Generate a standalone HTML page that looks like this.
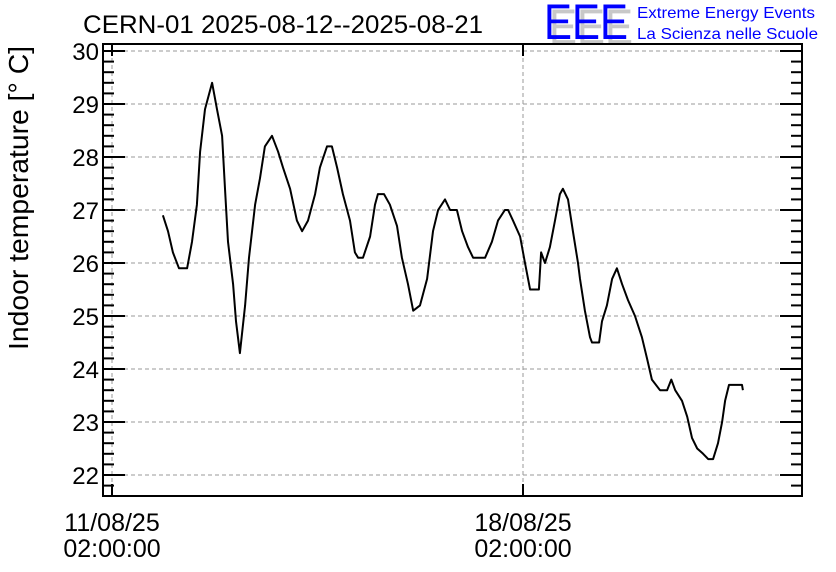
<!DOCTYPE html>
<html><head><meta charset="utf-8"><style>
html,body{margin:0;padding:0;background:#fff;}
svg{display:block;font-family:"Liberation Sans",Arial,sans-serif;}
</style></head><body>
<svg id="chart" width="836" height="572" viewBox="0 0 836 572">
  <text x="83" y="33" font-size="25" fill="#000" textLength="400" lengthAdjust="spacingAndGlyphs">CERN-01 2025-08-12--2025-08-21</text>
  <g>
    <text x="549" y="44" font-size="50" fill="#c8c8c8" textLength="84" lengthAdjust="spacingAndGlyphs">EEE</text>
    <text x="544" y="39" font-size="50" fill="#0000ff" textLength="84" lengthAdjust="spacingAndGlyphs">EEE</text>
    <text x="637" y="18" font-size="16" fill="#0000ff" textLength="178" lengthAdjust="spacingAndGlyphs">Extreme Energy Events</text>
    <text x="637" y="39" font-size="16" fill="#0000ff" textLength="181" lengthAdjust="spacingAndGlyphs">La Scienza nelle Scuole</text>
  </g>
  <g id="grid"></g>
  <g id="yaxis"></g>
  <g id="xaxis"></g>
  <path id="line" fill="none" stroke="#000" stroke-width="2" stroke-linejoin="round"></path>
  <rect x="103" y="44" width="699" height="452" fill="none" stroke="#000" stroke-width="2"></rect>
  <text transform="translate(28,198) rotate(-90)" text-anchor="middle" font-size="28" fill="#000" textLength="304" lengthAdjust="spacingAndGlyphs">Indoor temperature [° C]</text>
</svg>
<script>
// hours since 11/08/25 02:00:00
const hours = [20.8,22.9,24.9,27.4,30.7,32.7,34.7,36.0,38.0,40.9,42.9,45.0,46.2,47.4,49.5,50.7,52.3,54.4,56.0,58.5,60.5,62.5,65.4,67.9,69.9,72.8,75.6,77.7,80.1,83.0,85.0,87.9,89.9,92.0,94.4,97.3,99.3,100.6,102.6,105.5,107.5,108.7,111.2,113.6,116.5,118.5,121.0,123.1,125.9,128.8,131.2,133.3,136.1,138.2,141.0,143.1,145.5,147.6,152.5,155.3,157.8,160.6,161.9,163.9,166.8,168.8,170.9,174.5,175.4,177.0,179.0,181.1,183.1,184.3,186.4,188.4,190.5,191.3,193.3,195.4,196.2,199.1,200.3,202.3,204.4,206.4,208.5,210.9,213.8,216.6,218.7,220.7,224.0,226.9,228.6,230.2,233.0,235.1,237.1,239.2,241.6,243.7,245.7,247.7,249.4,250.6,252.2,257.5,257.9];
const temps = [26.9,26.6,26.2,25.9,25.9,26.4,27.1,28.1,28.9,29.4,28.9,28.4,27.4,26.4,25.6,24.9,24.3,25.2,26.1,27.1,27.6,28.2,28.4,28.1,27.8,27.4,26.8,26.6,26.8,27.3,27.8,28.2,28.2,27.8,27.3,26.8,26.2,26.1,26.1,26.5,27.1,27.3,27.3,27.1,26.7,26.1,25.6,25.1,25.2,25.7,26.6,27.0,27.2,27.0,27.0,26.6,26.3,26.1,26.1,26.4,26.8,27.0,27.0,26.8,26.5,26.0,25.5,25.5,26.2,26.0,26.3,26.8,27.3,27.4,27.2,26.6,26.0,25.7,25.1,24.6,24.5,24.5,24.9,25.2,25.7,25.9,25.6,25.3,25.0,24.6,24.2,23.8,23.6,23.6,23.8,23.6,23.4,23.1,22.7,22.5,22.4,22.3,22.3,22.6,23.0,23.4,23.7,23.7,23.6];
const yTicks = [22,23,24,25,26,27,28,29,30];
const xTickHours = [0,168];
const xTickLabels = [["11/08/25","02:00:00"],["18/08/25","02:00:00"]];

const L=103,R=802,T=44,B=496;
const X = h => 112 + h*(411/168);
const Y = t => 475 - (t-22)*53;
const NS="http://www.w3.org/2000/svg";
function mk(tag, attrs, parent){const e=document.createElementNS(NS,tag);for(const k in attrs)e.setAttribute(k,attrs[k]);parent.appendChild(e);return e;}
const grid=document.getElementById('grid'), ya=document.getElementById('yaxis'), xa=document.getElementById('xaxis');

yTicks.forEach(v=>{
  const y=Y(v);
  const g=mk('line',{x1:L,x2:R,y1:y,y2:y,stroke:'#999','stroke-dasharray':'4,3','stroke-width':1},grid);
  
  
  const t1=mk('line',{x1:L,x2:L+22,y1:y,y2:y,stroke:'#000','stroke-width':2},ya);
  
  
  const t2=mk('line',{x1:R-22,x2:R,y1:y,y2:y,stroke:'#000','stroke-width':2},ya);
  
  
  const lab=mk('text',{x:L-4,y:y+9,'text-anchor':'end','font-size':24,fill:'#000'},ya);
  lab.textContent=v;
  
  
});
for(let v=21.6; v<=30.1; v+=0.2){
  const y=Y(v); if(y<T+2||y>B-2) continue;
  if(Math.abs(v-Math.round(v))<0.01) continue;
  const m1=mk('line',{x1:L,x2:L+11,y1:y,y2:y,stroke:'#000','stroke-width':2},ya);
  
  
  const m2=mk('line',{x1:R-11,x2:R,y1:y,y2:y,stroke:'#000','stroke-width':2},ya);
  
  
}
xTickHours.forEach((h,i)=>{
  const x=X(h);
  const g=mk('line',{x1:x,x2:x,y1:T,y2:B,stroke:'#999','stroke-dasharray':'4,3','stroke-width':1},grid);
  
  
  const t=mk('line',{x1:x,x2:x,y1:B-12,y2:B,stroke:'#000','stroke-width':2},xa);
  
  
  const t2=mk('line',{x1:x,x2:x,y1:T,y2:T+12,stroke:'#000','stroke-width':2},xa);
  
  
  xTickLabels[i].forEach((s,j)=>{
    const lab=mk('text',{x:x,y:531+j*26,'text-anchor':'middle','font-size':25,fill:'#000'},xa);
    lab.textContent=s;
    
    
  });
});
let d='M'+X(hours[0]).toFixed(1)+','+Y(temps[0]).toFixed(1);
for(let i=1;i<hours.length;i++){
  d+=' L'+X(hours[i]).toFixed(1)+','+Y(temps[i]).toFixed(1);
}
document.getElementById('line').setAttribute('d',d);
</script>
</body></html>
